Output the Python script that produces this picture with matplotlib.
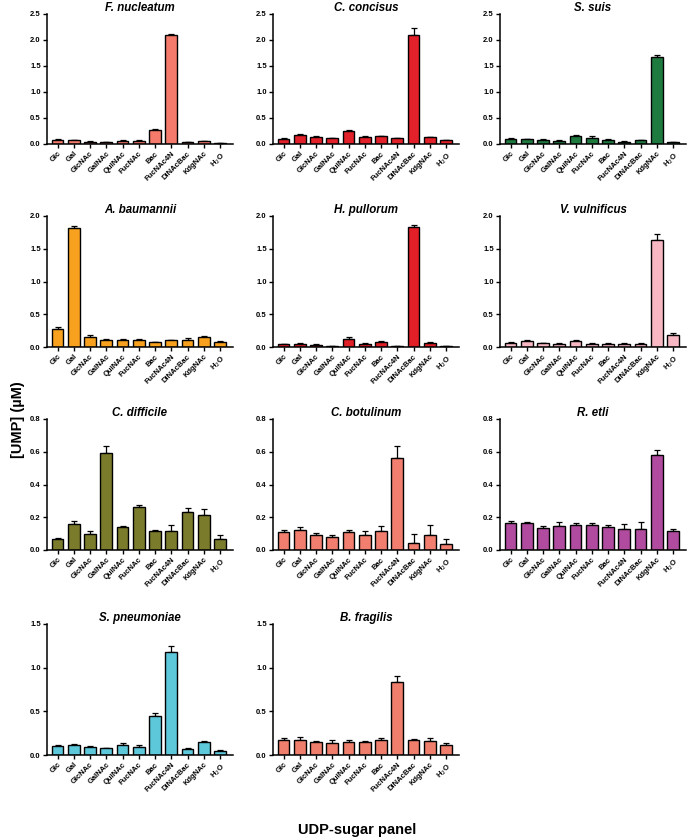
import numpy as np
import matplotlib
matplotlib.use("Agg")
import matplotlib.pyplot as plt

plt.rcParams['font.family'] = ['Liberation Sans', 'DejaVu Sans']

# Данные
sugars = ["Glc", "Gal", "GlcNAc", "GalNAc", "QuiNAc", "FucNAc", "Bac",
          "FucNAc4N", "DiNAcBac", "KdgNAc", "H$_2$O"]

organisms = ["F. nucleatum", "C. concisus", "S. suis",
             "A. baumannii", "H. pullorum", "V. vulnificus",
             "C. difficile", "C. botulinum", "R. etli",
             "S. pneumoniae", "B. fragilis"]

colors = ["#F47A6B", "#E3212A", "#1F7A40",
          "#F8A11E", "#E01F26", "#F7B8C4",
          "#7B7B2C", "#F27E6F", "#B14B9F",
          "#5EC8DB", "#F07E6C"]

ymax = [2.5, 2.5, 2.5, 2.0, 2.0, 2.0, 0.8, 0.8, 0.8, 1.5, 1.5]
ystep = [0.5, 0.5, 0.5, 0.5, 0.5, 0.5, 0.2, 0.2, 0.2, 0.5, 0.5]

f_nucleatum = [0.08, 0.07, 0.04, 0.03, 0.05, 0.06, 0.27, 2.09, 0.03, 0.05, 0.01]
f_nucleatum_err = [0.02, 0.01, 0.01, 0.01, 0.02, 0.01, 0.02, 0.03, 0.01, 0.01, 0.005]
c_concisus = [0.10, 0.18, 0.14, 0.11, 0.25, 0.13, 0.15, 0.11, 2.09, 0.13, 0.07]
c_concisus_err = [0.02, 0.02, 0.01, 0.01, 0.02, 0.02, 0.01, 0.01, 0.14, 0.01, 0.01]
s_suis = [0.09, 0.09, 0.08, 0.06, 0.15, 0.12, 0.08, 0.04, 0.07, 1.675, 0.03]
s_suis_err = [0.03, 0.01, 0.01, 0.01, 0.02, 0.03, 0.02, 0.01, 0.01, 0.035, 0.01]
a_baumannii = [0.28, 1.81, 0.16, 0.10, 0.10, 0.10, 0.07, 0.10, 0.11, 0.15, 0.08]
a_baumannii_err = [0.02, 0.03, 0.02, 0.02, 0.02, 0.02, 0.005, 0.01, 0.03, 0.02, 0.01]
h_pullorum = [0.04, 0.05, 0.03, 0.01, 0.12, 0.05, 0.07, 0.01, 1.83, 0.06, 0.01]
h_pullorum_err = [0.005, 0.01, 0.01, 0.01, 0.03, 0.01, 0.02, 0.005, 0.03, 0.02, 0.005]
v_vulnificus = [0.06, 0.09, 0.06, 0.05, 0.09, 0.05, 0.05, 0.05, 0.05, 1.64, 0.18]
v_vulnificus_err = [0.01, 0.01, 0.005, 0.01, 0.02, 0.01, 0.005, 0.01, 0.01, 0.09, 0.04]
c_difficile = [0.07, 0.16, 0.10, 0.59, 0.14, 0.265, 0.115, 0.118, 0.235, 0.215, 0.07]
c_difficile_err = [0.005, 0.015, 0.015, 0.045, 0.008, 0.01, 0.005, 0.035, 0.02, 0.033, 0.02]
c_botulinum = [0.11, 0.125, 0.09, 0.08, 0.11, 0.09, 0.118, 0.56, 0.045, 0.091, 0.037]
c_botulinum_err = [0.01, 0.015, 0.012, 0.012, 0.01, 0.025, 0.028, 0.075, 0.055, 0.06, 0.032]
r_etli = [0.165, 0.162, 0.136, 0.148, 0.15, 0.152, 0.138, 0.13, 0.13, 0.58, 0.115]
r_etli_err = [0.01, 0.012, 0.01, 0.022, 0.016, 0.014, 0.016, 0.028, 0.04, 0.032, 0.014]
s_pneumoniae = [0.10, 0.11, 0.09, 0.075, 0.115, 0.092, 0.45, 1.175, 0.065, 0.149, 0.046]
s_pneumoniae_err = [0.015, 0.015, 0.01, 0.01, 0.025, 0.025, 0.035, 0.07, 0.02, 0.015, 0.012]
b_fragilis = [0.175, 0.176, 0.153, 0.134, 0.149, 0.145, 0.168, 0.834, 0.168, 0.16, 0.115]
b_fragilis_err = [0.02, 0.03, 0.01, 0.035, 0.02, 0.02, 0.025, 0.065, 0.01, 0.03, 0.02]

values = [f_nucleatum, c_concisus, s_suis, a_baumannii, h_pullorum, v_vulnificus,
          c_difficile, c_botulinum, r_etli, s_pneumoniae, b_fragilis]
errors = [f_nucleatum_err, c_concisus_err, s_suis_err, a_baumannii_err, h_pullorum_err,
          v_vulnificus_err, c_difficile_err, c_botulinum_err, r_etli_err,
          s_pneumoniae_err, b_fragilis_err]

W, H = 688, 839
fig = plt.figure(figsize=(W / 100, H / 100), dpi=100)

col_left = [47, 273, 500]
row_top = [13, 216, 419, 624]
ax_w, ax_h = 186, 131

x = np.arange(len(sugars))
for i, name in enumerate(organisms):
    r, c = divmod(i, 3)
    left = col_left[c] / W
    bottom = (H - row_top[r] - ax_h) / H
    ax = fig.add_axes([left, bottom, ax_w / W, (ax_h - (1 if r == 0 else 0)) / H])

    vals = np.array(values[i])
    errs = np.array(errors[i])
    ax.bar(x, vals, width=0.72, color=colors[i], edgecolor="black", linewidth=1.0, zorder=2)
    ax.errorbar(x, vals, yerr=[np.zeros_like(errs), errs], fmt="none",
                ecolor="black", elinewidth=0.9, capsize=2.2, capthick=0.9, zorder=1)

    ax.set_xlim(-0.65, 10.8)
    ax.set_ylim(0, ymax[i])
    ax.set_yticks(np.arange(0, ymax[i] + 1e-9, ystep[i]))
    ax.yaxis.set_major_formatter(matplotlib.ticker.FormatStrFormatter("%.1f"))
    ax.set_xticks(x)
    ax.set_xticklabels(sugars, rotation=45, ha="right", rotation_mode="anchor",
                       fontsize=5.5, fontweight="bold")
    for lab in ax.get_yticklabels():
        lab.set_fontsize(5.5)
        lab.set_fontweight("bold")
    ax.tick_params(axis="both", direction="out", length=3, width=1.0, pad=1.5)

    for s in ["top", "right"]:
        ax.spines[s].set_visible(False)
    for s in ["left", "bottom"]:
        ax.spines[s].set_linewidth(1.1)

    ax.set_title(name, fontsize=8.3, fontweight="bold", fontstyle="italic", pad=1)

fig.text(18 / W, 0.5, "[UMP] (µM)", rotation=90, ha="center", va="center",
         fontsize=10.5, fontweight="bold")
fig.text(357 / W, 9 / H, "UDP-sugar panel", ha="center", va="center",
         fontsize=10.5, fontweight="bold")

fig.savefig("out.png", dpi=100)
